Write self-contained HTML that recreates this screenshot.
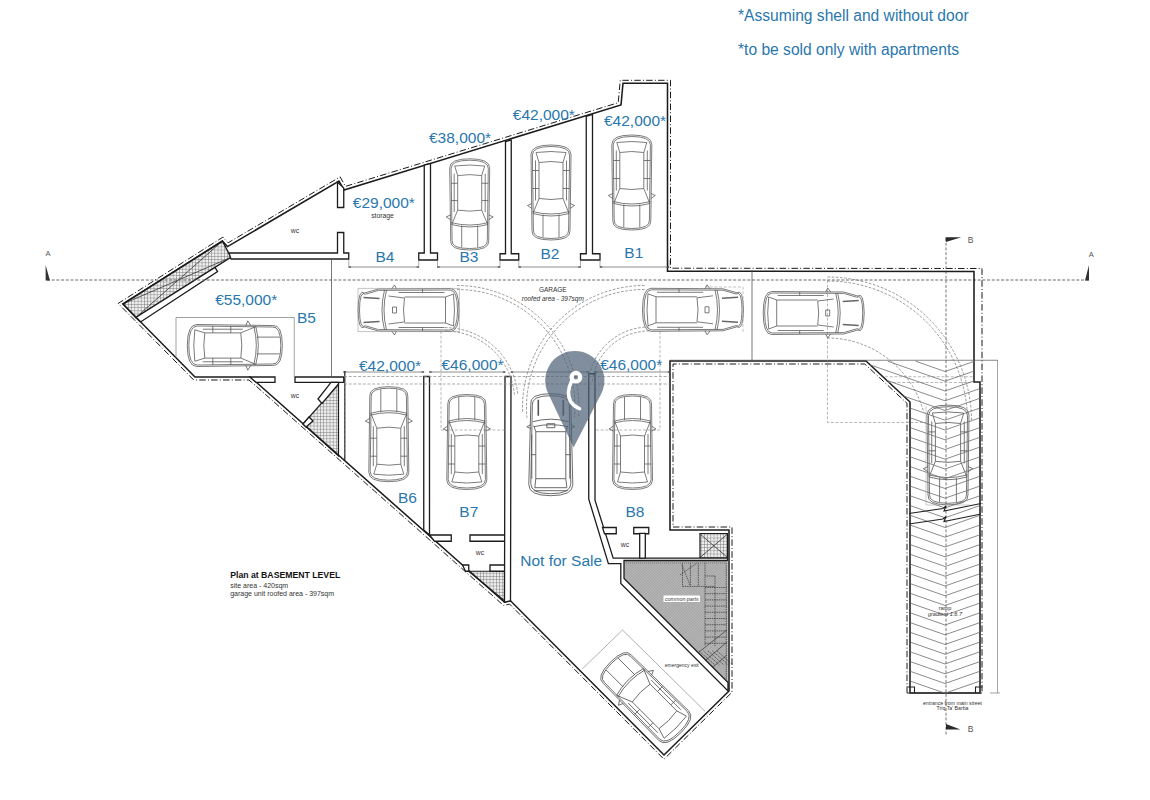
<!DOCTYPE html>
<html><head><meta charset="utf-8"><title>Plan at Basement Level</title>
<style>
html,body{margin:0;padding:0;background:#fff;width:1150px;height:800px;overflow:hidden}
svg{display:block}
text{font-family:"Liberation Sans",sans-serif}
.lbl{fill:#2a77ad;font-size:15.5px;text-anchor:middle}
.sm{fill:#333;font-size:6.8px;text-anchor:middle}
</style></head><body>
<svg width="1150" height="800" viewBox="0 0 1150 800">
<defs>
<pattern id="grid" width="3.2" height="3.2" patternUnits="userSpaceOnUse">
<rect width="3.2" height="3.2" fill="#eeeeee"/><path d="M0 0H3.2M0 0V3.2" stroke="#6a6a6a" stroke-width="0.85"/>
</pattern>
<pattern id="hatch" width="2" height="2" patternUnits="userSpaceOnUse" patternTransform="rotate(45)">
<rect width="2" height="2" fill="#bcbcbc"/><path d="M0 0H2M0 0V2" stroke="#888" stroke-width="0.6"/>
</pattern>
<g id="car" fill="none" stroke="#585858" stroke-width="0.78">
<path d="M-19,-38 Q-20,-47.5 0,-47.5 Q20,-47.5 19,-38 L20,38 Q20,47.5 0,47.5 Q-20,47.5 -20,38 Z"/>
<path d="M-17.6,-37.5 Q-18.6,-46 0,-46 Q18.6,-46 17.6,-37.5 L18.6,37.5 Q18.6,46 0,46 Q-18.6,46 -18.6,37.5 Z"/>
<path d="M-8,-45 V-22 M8,-45 V-22"/>
<path d="M-18,-21 Q0,-26 18,-21 M-18.5,-19 Q0,-24 18.5,-19"/>
<path d="M-18,-21 L-12,-6 M18,-21 L12,-6"/>
<path d="M-12,-6 Q0,-8 12,-6 L12,30 Q0,32 -12,30 Z"/>
<path d="M-12,30 L-15,40 Q0,42 15,40 L12,30"/>
<path d="M-15.5,-8 L-15.5,32 M15.5,-8 L15.5,32 M-18.6,4 H-12 M12,4 H18.6 M-18.6,22 H-12 M12,22 H18.6"/>
<path d="M-19,-16 L-23.5,-13 L-19,-11 M19,-16 L23.5,-13 L19,-11"/>
</g>
<g id="suv" fill="none" stroke="#5a5a5a" stroke-width="0.9">
<path d="M-20,-40 Q-22,-51 0,-51 Q22,-51 20,-40 L22,40 Q22,51 0,51 Q-22,51 -22,40 Z"/>
<path d="M-18.5,-39 Q-20,-49 0,-49 Q20,-49 18.5,-39 L20,39 Q20,49 0,49 Q-20,49 -20,39 Z"/>
<path d="M-12.5,-45 V-29 M12.5,-45 V-29" stroke-width="1.6" stroke="#555"/>
<path d="M-18,-23 Q0,-28 18,-23 M-17,-18 Q0,-22 17,-18 M-4,-21 h8 v4 h-8 z"/>
<path d="M-15,-13 H15 L15,34 H-15 Z M-15,-13 L-17,-19 M15,-13 L17,-19"/>
<path d="M-19,-10 V34 M19,-10 V34 M-20,10 H-15 M15,10 H20"/>
<path d="M-15,34 L-16,43 H16 L15,34 M-17,46 H17"/>
<path d="M-20,-20 L-24,-18 L-20,-16 M20,-20 L24,-18 L20,-16"/>
</g>
<g id="hb" fill="none" stroke="#5a5a5a" stroke-width="0.8">
<path d="M-17,-44 Q-21.5,-50 0,-50.5 Q21.5,-50 17,-44 L21,-30 L21.5,42 Q21.5,50.5 0,50.5 Q-21.5,50.5 -21.5,42 L-21,-30 Z"/>
<path d="M-15.8,-43 Q-20,-48.8 0,-49 Q20,-48.8 15.8,-43 L19.6,-30 L20,41.5 Q20,49 0,49 Q-20,49 -20,41.5 L-19.6,-30 Z"/>
<path d="M-12.5,-45 L-11.5,-29 M12.5,-45 L11.5,-29" stroke-width="1.5" stroke="#666"/>
<path d="M-20,-24 Q0,-29 20,-24 M-20,-22 Q0,-27 20,-22"/>
<path d="M-14,-20 L-12,-4 M14,-20 L12,-4 M-3,-16 h6 v4 h-6 z M-12,-4 Q0,-6 12,-4"/>
<path d="M-13,-4 V37 H13 V-4"/>
<path d="M-17.5,-10 V36 M17.5,-10 V36 M-21,14 H-17.5 M17.5,14 H21"/>
<path d="M-13,37 L-16,45 Q0,47 16,45 L13,37"/>
<path d="M-21,-17 L-25,-14 L-21,-12 M21,-17 L25,-14 L21,-12"/>
</g>
</defs>

<path d="M624.00,560.50 L727.50,560.50 L727.50,683.00 L624.00,578.50 Z" fill="url(#hatch)" stroke="none" stroke-width="0" />
<path d="M700.00,533.50 L727.50,533.50 L727.50,558.10 L700.00,558.10 Z" fill="url(#grid)" stroke="#1c1c1c" stroke-width="1.2" />
<path d="M700,534 L727.5,557.5 M727.5,534 L700,557.5" fill="none" stroke="#333" stroke-width="0.8" />
<path d="M122.90,304.00 L222.40,241.00 L230.90,257.30 L135.80,317.50 Z" fill="url(#grid)" stroke="#1c1c1c" stroke-width="1.4" />
<path d="M122.9,304 L230.9,257.3 M135.8,317.5 L222.4,241" fill="none" stroke="#333" stroke-width="0.8" />
<path d="M135.80,317.50 L215.00,267.50 L217.60,271.60 L140.50,322.00 Z" fill="#fff" stroke="#1c1c1c" stroke-width="1.3" />
<path d="M338.50,384.00 L338.50,456.00 L303.00,424.00 Z" fill="url(#grid)" stroke="#1c1c1c" stroke-width="1.2" />
<path d="M468.75,571.25 L505.00,571.25 L505.00,601.25 Z" fill="url(#grid)" stroke="#1c1c1c" stroke-width="1.2" />
<path d="M47,280 H1089" fill="none" stroke="#6a6a6a" stroke-width="1.1" stroke-dasharray="3 1.7"/>
<path d="M946,238 V735" fill="none" stroke="#777" stroke-width="1" stroke-dasharray="3 1.7"/>
<path d="M945.6,237.2 L961.3,237.2 L945.9,242 Z" fill="#2a2a2a"/>
<path d="M946,724 L946,729.5 L960.5,729.5 Z" fill="#2a2a2a"/>
<text x="970.5" y="242.7" font-size="8.5" fill="#555" text-anchor="middle">B</text>
<text x="970.5" y="732" font-size="8.5" fill="#555" text-anchor="middle">B</text>
<path d="M45.6,265 L45.6,280.5 L50,280.5 Z" fill="#333"/>
<path d="M1089,265 L1089,280.5 L1085,280.5 Z" fill="#333"/>
<text x="48.1" y="256.3" font-size="7.5" fill="#555" text-anchor="middle">A</text>
<text x="1091.3" y="256.6" font-size="7.5" fill="#555" text-anchor="middle">A</text>
<path d="M907.00,693.00 L907.00,403.31 L864.82,364.00 L673.00,364.00 L673.00,527.00 L732.00,527.00 L732.00,692.26 L663.98,759.23 L509.58,604.07 L503.69,605.54 L254.04,384.28 L248.91,380.00 L193.75,380.00 L118.15,303.46 L222.92,237.12 L228.08,242.78 L340.13,176.86 L345.44,186.42 L618.20,102.72 L620.26,80.30 L670.50,80.30 L670.50,268.20 L982.00,268.50 L982.00,693.00" fill="none" stroke="#1a1a1a" stroke-width="1" stroke-dasharray="6.5 2.2 1 2.2"/>
<path d="M122.90,304.00 L222.40,241.00 L227.50,246.60 L339.00,181.00 L344.00,190.00 L621.00,105.00 L623.00,83.30 L667.50,83.30 L667.50,271.20 L974.00,271.50 L974.00,382.00 L980.00,382.00 L980.00,693.00 L910.00,693.00 L910.00,402.00 L866.00,361.00 L670.00,361.00 L670.00,530.00 L729.00,530.00 L729.00,691.00 L664.00,755.00 L510.50,600.75 L504.50,602.25 L256.00,382.00 L250.00,377.00 L195.00,377.00 Z" fill="none" stroke="#1c1c1c" stroke-width="1.55" />
<path d="M229.00,253.00 L337.50,253.00 L337.50,232.50 L343.75,232.50 L343.75,253.00 L348.75,253.00 L348.75,259.00 L231.00,259.00 Z" fill="#fff" stroke="#1c1c1c" stroke-width="1.3" />
<path d="M337.50,182.00 L343.75,188.00 L343.75,207.50 L337.50,207.50 Z" fill="#fff" stroke="#1c1c1c" stroke-width="1.3" />
<path d="M424.25,165.00 L430.50,163.50 L430.50,253.00 L437.50,253.00 L437.50,260.00 L418.75,260.00 L418.75,253.00 L424.25,253.00 Z" fill="#fff" stroke="#1c1c1c" stroke-width="1.3" />
<path d="M505.50,141.50 L511.25,140.00 L511.25,253.75 L518.75,253.75 L518.75,260.00 L500.00,260.00 L500.00,253.75 L505.50,253.75 Z" fill="#fff" stroke="#1c1c1c" stroke-width="1.3" />
<path d="M586.25,116.50 L592.50,114.50 L592.50,253.75 L600.00,253.75 L600.00,260.00 L580.50,260.00 L580.50,253.75 L586.25,253.75 Z" fill="#fff" stroke="#1c1c1c" stroke-width="1.3" />
<path d="M250.00,377.00 L275.00,377.00 L275.00,382.30 L256.00,382.30 Z" fill="#fff" stroke="#1c1c1c" stroke-width="1.3" />
<path d="M295.00,377.00 L343.75,377.00 L343.75,382.30 L295.00,382.30 Z" fill="#fff" stroke="#1c1c1c" stroke-width="1.3" />
<path d="M331.00,382.30 L338.50,382.30 L338.50,384.00 L322.00,403.50 L318.00,399.00 Z" fill="#fff" stroke="#1c1c1c" stroke-width="1.3" />
<path d="M303.00,424.00 L309.00,417.00 L313.00,421.00 L306.00,427.00 Z" fill="#fff" stroke="#1c1c1c" stroke-width="1.3" />
<path d="M344.8,371 V460" fill="none" stroke="#1c1c1c" stroke-width="1.2" />
<path d="M423.75,376.50 L429.50,376.50 L429.50,535.00 L423.75,530.00 Z" fill="#fff" stroke="#1c1c1c" stroke-width="1.3" />
<path d="M429.50,535.00 L451.25,535.00 L451.25,541.25 L434.50,541.25 Z" fill="#fff" stroke="#1c1c1c" stroke-width="1.3" />
<path d="M470.00,535.00 L505.00,535.00 L505.00,541.25 L470.00,541.25 Z" fill="#fff" stroke="#1c1c1c" stroke-width="1.3" />
<path d="M462.50,565.00 L468.75,565.00 L468.75,571.25 L465.50,571.25 Z" fill="#fff" stroke="#1c1c1c" stroke-width="1.3" />
<path d="M490.00,565.00 L505.00,565.00 L505.00,571.25 L490.00,571.25 Z" fill="#fff" stroke="#1c1c1c" stroke-width="1.3" />
<path d="M505.00,376.50 L511.00,376.50 L510.50,600.75 L504.50,602.25 Z" fill="#fff" stroke="#1c1c1c" stroke-width="1.3" />
<path d="M588.75,373.75 L595.00,373.75 L595.00,500.25 L613.20,558.10 L727.50,558.10 L727.50,560.50 L624.00,560.50 L624.00,578.50 L728.00,682.50 L728.00,691.00 L620.80,583.50 L620.80,563.60 L608.40,563.60 L588.75,499.10 Z" fill="#fff" stroke="#1c1c1c" stroke-width="1.3" />
<path d="M602.50,527.50 L616.25,527.50 L616.25,533.75 L604.50,533.75 Z" fill="#fff" stroke="#1c1c1c" stroke-width="1.3" />
<path d="M633.75,527.50 L648.75,527.50 L648.75,533.75 L633.75,533.75 Z" fill="#fff" stroke="#1c1c1c" stroke-width="1.3" />
<path d="M639.70,533.40 L645.30,533.40 L645.30,558.10 L639.70,558.10 Z" fill="#fff" stroke="#1c1c1c" stroke-width="1.3" />
<path d="M331.5,259 V377" fill="none" stroke="#555" stroke-width="0.8" />
<path d="M752,270 V361" fill="none" stroke="#555" stroke-width="0.8" />
<path d="M348.75,267.00 H418.75" fill="none" stroke="#6a6a6a" stroke-width="0.75" />
<path d="M348.75,260.00 V268.00 M418.75,260.00 V268.00" fill="none" stroke="#777" stroke-width="0.6" />
<path d="M348.75,267.00 h2.2 M418.75,267.00 h-2.2" fill="none" stroke="#333" stroke-width="1" />
<path d="M437.50,267.00 H500.00" fill="none" stroke="#6a6a6a" stroke-width="0.75" />
<path d="M437.50,260.00 V268.00 M500.00,260.00 V268.00" fill="none" stroke="#777" stroke-width="0.6" />
<path d="M437.50,267.00 h2.2 M500.00,267.00 h-2.2" fill="none" stroke="#333" stroke-width="1" />
<path d="M518.75,267.00 H580.50" fill="none" stroke="#6a6a6a" stroke-width="0.75" />
<path d="M518.75,260.00 V268.00 M580.50,260.00 V268.00" fill="none" stroke="#777" stroke-width="0.6" />
<path d="M518.75,267.00 h2.2 M580.50,267.00 h-2.2" fill="none" stroke="#333" stroke-width="1" />
<path d="M600.00,267.00 H669.00" fill="none" stroke="#6a6a6a" stroke-width="0.75" />
<path d="M600.00,260.00 V268.00 M669.00,260.00 V268.00" fill="none" stroke="#777" stroke-width="0.6" />
<path d="M600.00,267.00 h2.2 M669.00,267.00 h-2.2" fill="none" stroke="#333" stroke-width="1" />
<path d="M343.75,372.00 H423.75" fill="none" stroke="#6a6a6a" stroke-width="0.75" />
<path d="M343.75,371.00 V373.00 M423.75,371.00 V373.00" fill="none" stroke="#777" stroke-width="0.6" />
<path d="M343.75,372.00 h2.2 M423.75,372.00 h-2.2" fill="none" stroke="#333" stroke-width="1" />
<path d="M429.50,372.00 H505.00" fill="none" stroke="#6a6a6a" stroke-width="0.75" />
<path d="M429.50,371.00 V373.00 M505.00,371.00 V373.00" fill="none" stroke="#777" stroke-width="0.6" />
<path d="M429.50,372.00 h2.2 M505.00,372.00 h-2.2" fill="none" stroke="#333" stroke-width="1" />
<path d="M511.00,372.00 H588.75" fill="none" stroke="#6a6a6a" stroke-width="0.75" />
<path d="M511.00,371.00 V373.00 M588.75,371.00 V373.00" fill="none" stroke="#777" stroke-width="0.6" />
<path d="M511.00,372.00 h2.2 M588.75,372.00 h-2.2" fill="none" stroke="#333" stroke-width="1" />
<path d="M595.00,372.00 H670.00" fill="none" stroke="#6a6a6a" stroke-width="0.75" />
<path d="M595.00,371.00 V373.00 M670.00,371.00 V373.00" fill="none" stroke="#777" stroke-width="0.6" />
<path d="M595.00,372.00 h2.2 M670.00,372.00 h-2.2" fill="none" stroke="#333" stroke-width="1" />
<path d="M344,376.5 H670 M344,384 H670" fill="none" stroke="#8a8a8a" stroke-width="0.7" stroke-dasharray="3 1.7"/>
<path d="M176,357.5 V317.5 H294.25 V377" fill="none" stroke="#7a7a7a" stroke-width="0.7" />
<path d="M441,331 V430 H505 M596,430 H660 V331" fill="none" stroke="#8a8a8a" stroke-width="0.6" stroke-dasharray="3 1.7"/>
<path d="M827.5,280 V422.5 H926" fill="none" stroke="#8a8a8a" stroke-width="0.6" stroke-dasharray="3 1.7"/>
<path d="M885,376.75 H973.5 M888,382.5 H973.5" fill="none" stroke="#8a8a8a" stroke-width="0.6" stroke-dasharray="3 1.7"/>
<path d="M670,360.25 H998" fill="none" stroke="#555" stroke-width="0.7" />
<path d="M997.5,360.25 V693 M990,693 H1000" fill="none" stroke="#666" stroke-width="0.6" />
<path d="M907,693 H982" fill="none" stroke="#333" stroke-width="1.2" />
<use href="#car" transform="translate(469.7,204.4) rotate(180) scale(1,0.96)"/>
<use href="#car" transform="translate(551.0,192.5) rotate(180) scale(1,1)"/>
<use href="#car" transform="translate(631.8,182.5) rotate(180) scale(1,1)"/>
<use href="#hb" transform="translate(408.5,310) rotate(-90)"/>
<use href="#hb" transform="translate(693,309.8) rotate(90)"/>
<use href="#hb" transform="translate(813.7,313) rotate(90)"/>
<use href="#car" transform="translate(234.8,345.5) rotate(90) scale(1.05,1)"/>
<use href="#car" transform="translate(388.8,434.2) rotate(0) scale(1,1)"/>
<use href="#car" transform="translate(466.8,442.0) rotate(0) scale(1,1)"/>
<use href="#suv" transform="translate(550.8,444.7)"/>
<use href="#car" transform="translate(632.5,442.0) rotate(0) scale(1,1)"/>
<use href="#car" transform="translate(948.0,455.0) rotate(180) scale(1.05,1.05)"/>
<use href="#car" transform="translate(645.6,697.5) rotate(-45) scale(1.05,1.05)"/>
<path d="M457.00,289.50 A118.00,118.00 0 0 1 574.55,417.78" fill="none" stroke="#7e7e7e" stroke-width="0.8" stroke-dasharray="2.6 1.6"/>
<path d="M457.00,285.50 A122.00,122.00 0 0 1 578.54,418.13" fill="none" stroke="#7e7e7e" stroke-width="0.8" stroke-dasharray="2.6 1.6"/>
<path d="M644.50,289.50 A118.00,118.00 0 0 0 526.95,417.78" fill="none" stroke="#7e7e7e" stroke-width="0.8" stroke-dasharray="2.6 1.6"/>
<path d="M644.50,285.50 A122.00,122.00 0 0 0 522.57,411.76" fill="none" stroke="#7e7e7e" stroke-width="0.8" stroke-dasharray="2.6 1.6"/>
<path d="M445.00,331.00 A69.60,69.60 0 0 1 514.34,394.53" fill="none" stroke="#7e7e7e" stroke-width="0.8" stroke-dasharray="2.6 1.6"/>
<path d="M445.00,327.60 A73.00,73.00 0 0 1 517.72,394.24" fill="none" stroke="#7e7e7e" stroke-width="0.8" stroke-dasharray="2.6 1.6"/>
<path d="M649.00,331.00 A57.00,57.00 0 0 0 592.22,383.03" fill="none" stroke="#7e7e7e" stroke-width="0.8" stroke-dasharray="2.6 1.6"/>
<path d="M649.00,327.00 A61.00,61.00 0 0 0 588.23,382.68" fill="none" stroke="#7e7e7e" stroke-width="0.8" stroke-dasharray="2.6 1.6"/>
<path d="M827.50,281.00 A140.00,140.00 0 0 1 967.50,421.00" fill="none" stroke="#7e7e7e" stroke-width="0.8" stroke-dasharray="2.6 1.6"/>
<path d="M827.50,277.00 A144.00,144.00 0 0 1 971.50,421.00" fill="none" stroke="#7e7e7e" stroke-width="0.8" stroke-dasharray="2.6 1.6"/>
<path d="M827.5,338 A100,102 0 0 1 924,413" fill="none" stroke="#7e7e7e" stroke-width="0.8" stroke-dasharray="2.6 1.6"/>
<path d="M358,288.4 H459.4 V331.6 H358 Z" fill="none" stroke="#9a9a9a" stroke-width="0.6" />
<path d="M705,287 H743 V333" fill="none" stroke="#9a9a9a" stroke-width="0.6" stroke-dasharray="3 1.7"/>
<path d="M345,376.5 V455" fill="none" stroke="#9a9a9a" stroke-width="0.5" stroke-dasharray="3 1.7"/>
<path d="M915.6,361.2 L945.0,371.5 M974.0,361.4 L945.0,371.5 M887.7,361.2 L945.0,381.2 M974.0,371.1 L945.0,381.2 M870.0,364.8 L945.0,391.0 M974.0,380.9 L945.0,391.0 M886.8,380.4 L945.0,400.8 M979.0,388.9 L945.0,400.8 M903.6,396.0 L945.0,410.5 M979.0,398.6 L945.0,410.5 M910.8,408.3 L945.0,420.2 M979.0,408.4 L945.0,420.2 M910.8,418.0 L945.0,430.0 M979.0,418.1 L945.0,430.0 M910.8,427.8 L945.0,439.8 M979.0,427.9 L945.0,439.8 M910.8,437.5 L945.0,449.5 M979.0,437.6 L945.0,449.5 M910.8,447.3 L945.0,459.2 M979.0,447.4 L945.0,459.2 M910.8,457.0 L945.0,469.0 M979.0,457.1 L945.0,469.0 M910.8,466.8 L945.0,478.8 M979.0,466.9 L945.0,478.8 M910.8,476.5 L945.0,488.5 M979.0,476.6 L945.0,488.5 M910.8,486.3 L945.0,498.2 M979.0,486.4 L945.0,498.2 M910.8,496.0 L945.0,508.0 M979.0,496.1 L945.0,508.0 M910.8,505.8 L945.0,517.8 M979.0,505.9 L945.0,517.8 M910.8,515.5 L945.0,527.5 M979.0,515.6 L945.0,527.5 M910.8,525.3 L945.0,537.2 M979.0,525.4 L945.0,537.2 M910.8,535.0 L945.0,547.0 M979.0,535.1 L945.0,547.0 M910.8,544.8 L945.0,556.8 M979.0,544.9 L945.0,556.8 M910.8,554.5 L945.0,566.5 M979.0,554.6 L945.0,566.5 M910.8,564.3 L945.0,576.2 M979.0,564.4 L945.0,576.2 M910.8,574.0 L945.0,586.0 M979.0,574.1 L945.0,586.0 M910.8,583.8 L945.0,595.8 M979.0,583.9 L945.0,595.8 M910.8,593.5 L945.0,605.5 M979.0,593.6 L945.0,605.5 M910.8,603.3 L945.0,615.2 M979.0,603.4 L945.0,615.2 M910.8,613.0 L945.0,625.0 M979.0,613.1 L945.0,625.0 M910.8,622.8 L945.0,634.8 M979.0,622.9 L945.0,634.8 M910.8,632.5 L945.0,644.5 M979.0,632.6 L945.0,644.5 M910.8,642.3 L945.0,654.2 M979.0,642.4 L945.0,654.2 M910.8,652.0 L945.0,664.0 M979.0,652.1 L945.0,664.0 M910.8,661.8 L945.0,673.8 M979.0,661.9 L945.0,673.8 M910.8,671.5 L945.0,683.5 M979.0,671.6 L945.0,683.5 M910.8,681.3 L945.0,693.2 M979.0,681.4 L945.0,693.2" fill="none" stroke="#6e6e6e" stroke-width="0.8"/>
<path d="M909,513.5 L943,508.5 L946,506 L944,511 L981,503.5 M909,524 L943,519 L946,516.5 L944,521.5 L981,514" fill="none" stroke="#222" stroke-width="1.1" />
<path d="M907.5,687 H914.5 V693 M982.5,687 H975.5 V693" fill="none" stroke="#222" stroke-width="1.1" />
<path d="M926,406 V505 H970" fill="none" stroke="#9a9a9a" stroke-width="0.5" />
<path d="M705,562.75 V646 M715,576 V646 M726.8,562.75 V682 M705,587.5 H726.8 M705,593.7 H726.8 M705,599.9 H726.8 M705,606.1 H726.8 M705,612.3 H726.8 M705,618.5 H726.8 M705,624.7 H726.8 M705,630.9 H726.8 M705,637.1 H726.8 M705,643.3 H726.8 M682.5,563 V586.4 M690.4,563 V586.4 M698.3,563 V586.4 M682.5,586.4 H715 M715,576 H705 M682,565 L690,585 M680,575 L697,563 M699.0,651.0 L715.0,665.0 M703.5,651.0 L719.5,665.0 M708.0,651.0 L724.0,665.0 M712.5,651.0 L728.5,665.0 M717.0,651.0 L733.0,665.0" fill="none" stroke="#333" stroke-width="0.7" stroke-dasharray="1.5 0.8"/>
<path d="M699,652 L727,630 M706,660 L727,642 M713,667 L727,655" fill="none" stroke="#333" stroke-width="0.7" />
<path d="M582.5,668.75 L622.5,630 L705,711.25" fill="none" stroke="#7a7a7a" stroke-width="0.6" />
<path d="M626,563 H726 V680" fill="none" stroke="#555" stroke-width="0.6" stroke-dasharray="1 1"/>
<path d="M573.6,447.4 L548.25,393.6 A29.6,29.6 0 1 1 601.35,393.6 Z" fill="#4f6379" fill-opacity="0.72"/>
<circle cx="575.9" cy="377.2" r="4.3" fill="none" stroke="#fff" stroke-width="4.2"/>
<path d="M571.5,381.5 Q566,392 570.5,401.5 Q574,406.5 579.5,408.6" fill="none" stroke="#fff" stroke-width="3.6" stroke-linecap="round"/>
<text class="lbl" x="383.8" y="207.5">€29,000*</text>
<text class="lbl" x="460.0" y="142.5">€38,000*</text>
<text class="lbl" x="543.8" y="119.5">€42,000*</text>
<text class="lbl" x="635.0" y="126.2">€42,000*</text>
<text class="lbl" x="385.0" y="261.5">B4</text>
<text class="lbl" x="469.0" y="262.0">B3</text>
<text class="lbl" x="550.0" y="258.8">B2</text>
<text class="lbl" x="633.8" y="257.5">B1</text>
<text class="lbl" x="246.2" y="305.0">€55,000*</text>
<text class="lbl" x="306.5" y="322.5">B5</text>
<text class="lbl" x="390.0" y="371.2">€42,000*</text>
<text class="lbl" x="472.5" y="370.0">€46,000*</text>
<text class="lbl" x="631.2" y="370.0">€46,000*</text>
<text class="lbl" x="407.5" y="502.5">B6</text>
<text class="lbl" x="468.8" y="517.0">B7</text>
<text class="lbl" x="635.0" y="517.0">B8</text>
<text class="lbl" x="561.2" y="565.8">Not for Sale</text>
<text class="sm" x="382.5" y="217.5">storage</text>
<text class="sm" x="295" y="398">wc</text>
<text class="sm" x="480" y="555">wc</text>
<text class="sm" x="625" y="547">wc</text>
<text class="sm" x="295" y="233">wc</text>
<text class="sm" x="552.8" y="292" style="font-size:6.5px">GARAGE</text>
<text class="sm" x="552.8" y="300.5" style="font-size:6.5px;font-style:italic">roofed area - 397sqm</text>
<rect x="663.5" y="595.5" width="36.5" height="6.5" fill="#fff"/>
<text class="sm" x="681.8" y="600.8" style="font-style:italic;font-size:5.3px">common parts</text>
<text class="sm" x="681.8" y="666.5" style="font-size:5px">emergency exit</text>
<text class="sm" x="945" y="609.5" style="font-size:5.6px">ramp</text>
<text class="sm" x="945" y="615.5" style="font-style:italic;font-size:5.6px">gradient 1:6.7</text>
<text class="sm" x="952.5" y="704.5" style="font-size:5.2px">entrance from main street</text>
<text class="sm" x="952.5" y="710" style="font-size:5.2px">Triq Ta' Barba</text>
<text x="230.2" y="578.1" style="font-size:8.7px;font-weight:bold;fill:#111">Plan at BASEMENT LEVEL</text>
<text x="230.2" y="587.7" style="font-size:7px;fill:#333">site area - 420sqm</text>
<text x="230.2" y="596" style="font-size:7px;fill:#333">garage unit roofed area - 397sqm</text>
<text x="738" y="20.8" style="font-size:15.6px;fill:#2a77ad">*Assuming shell and without door</text>
<text x="738" y="55.4" style="font-size:15.6px;fill:#2a77ad">*to be sold only with apartments</text>
</svg></body></html>
